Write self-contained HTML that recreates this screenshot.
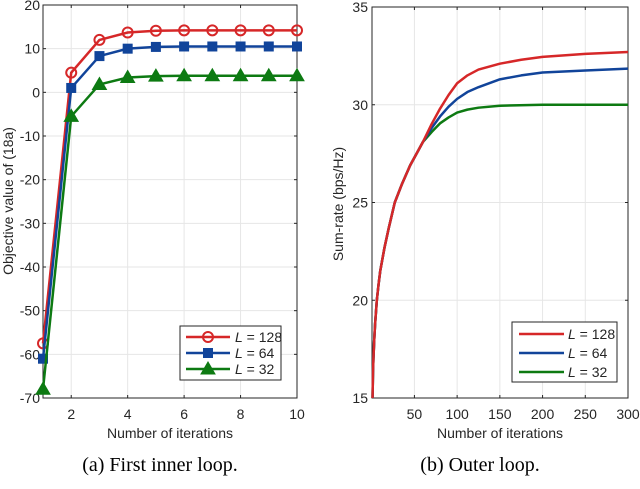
<!DOCTYPE html>
<html><head><meta charset="utf-8"><style>
html,body{margin:0;padding:0;background:#fff;width:640px;height:489px;overflow:hidden}
svg{display:block}
text{font-family:"Liberation Sans",sans-serif;fill:#262626}
</style></head><body>
<svg id="s" width="640" height="489" xmlns="http://www.w3.org/2000/svg">
<rect width="640" height="489" fill="#fff"/>
<text x="160" y="471" text-anchor="middle" style="font-family:'Liberation Serif',serif;font-size:20px;fill:#000">(a) First inner loop.</text>
<text x="480" y="471" text-anchor="middle" style="font-family:'Liberation Serif',serif;font-size:20px;fill:#000">(b) Outer loop.</text>
</svg>
<script>
const S=document.getElementById('s'),NS='http://www.w3.org/2000/svg';
function el(t,a,p){const e=document.createElementNS(NS,t);for(const k in a)e.setAttribute(k,a[k]);(p||S).appendChild(e);return e}
function tx(x,y,s,a){const e=el('text',Object.assign({x,y,'font-size':14},a||{}));e.textContent=s;return e}
const lx=v=>43+(v-1)*(254/9), ly=v=>5+(20-v)*(393/90);
for(let v=2;v<=10;v+=2){el('line',{x1:lx(v),x2:lx(v),y1:5,y2:398,stroke:'#e6e6e6'});}
for(let v=-60;v<=10;v+=10){el('line',{x1:43,x2:297,y1:ly(v),y2:ly(v),stroke:'#e6e6e6'});}
el('rect',{x:43,y:5,width:254,height:393,fill:'none',stroke:'#262626','stroke-width':1});
for(let v=2;v<=10;v+=2){el('line',{x1:lx(v),x2:lx(v),y1:398,y2:395,stroke:'#262626'});el('line',{x1:lx(v),x2:lx(v),y1:5,y2:8,stroke:'#262626'});tx(lx(v),419,v,{'text-anchor':'middle'});}
for(let v=-70;v<=20;v+=10){el('line',{x1:43,x2:46,y1:ly(v),y2:ly(v),stroke:'#262626'});el('line',{x1:297,x2:294,y1:ly(v),y2:ly(v),stroke:'#262626'});tx(40,ly(v)+5,v,{'text-anchor':'end'});}
tx(170,438,'Number of iterations',{'text-anchor':'middle'});
tx(0,0,'Objective value of (18a)',{'text-anchor':'middle',transform:'translate(13,201) rotate(-90)'});
const D=[[ '#d62728',[-57.5,4.5,12,13.7,14.1,14.2,14.2,14.2,14.2,14.2],'o'],
['#11449a',[-61,1,8.3,10,10.4,10.5,10.5,10.5,10.5,10.5],'s'],
['#0d7a12',[-68,-5.5,1.8,3.4,3.7,3.8,3.8,3.8,3.8,3.8],'t']];
function mk(x,y,c,m){if(m=='o')el('circle',{cx:x,cy:y,r:5,fill:'none',stroke:c,'stroke-width':2});
else if(m=='s')el('rect',{x:x-4.5,y:y-4.5,width:9,height:9,fill:c,stroke:c,'stroke-width':1});
else el('polygon',{points:`${x},${y-7} ${x-7},${y+5} ${x+7},${y+5}`,fill:c,stroke:c});}
D.forEach(([c,d,m])=>{el('polyline',{points:d.map((v,i)=>lx(i+1)+','+ly(v)).join(' '),fill:'none',stroke:c,'stroke-width':2.5});d.forEach((v,i)=>mk(lx(i+1),ly(v),c,m));});
el('rect',{x:180,y:326,width:101,height:54,fill:'#fff',stroke:'#262626'});
D.forEach(([c,d,m],i)=>{const y=337+i*16;el('line',{x1:186,x2:230,y1:y,y2:y,stroke:c,'stroke-width':2.5});mk(208,y,c,m);
const t=tx(235,y+5,'',{});t.innerHTML='<tspan font-style="italic">L</tspan> = '+['128','64','32'][i];});
const rx=v=>371.7+v*(256.3/300), ry=v=>7+(35-v)*(391/20);
for(let v=50;v<=250;v+=50)el('line',{x1:rx(v),x2:rx(v),y1:7,y2:398,stroke:'#e6e6e6'});
for(let v=20;v<=30;v+=5)el('line',{x1:372,x2:628,y1:ry(v),y2:ry(v),stroke:'#e6e6e6'});
el('rect',{x:372,y:7,width:256,height:391,fill:'none',stroke:'#262626'});
for(let v=50;v<=300;v+=50){el('line',{x1:rx(v),x2:rx(v),y1:398,y2:395,stroke:'#262626'});el('line',{x1:rx(v),x2:rx(v),y1:7,y2:10,stroke:'#262626'});tx(rx(v),419,v,{'text-anchor':'middle'});}
for(let v=15;v<=35;v+=5){el('line',{x1:372,x2:375,y1:ry(v),y2:ry(v),stroke:'#262626'});el('line',{x1:628,x2:625,y1:ry(v),y2:ry(v),stroke:'#262626'});tx(368,ry(v)+5,v,{'text-anchor':'end'});}
tx(500,438,'Number of iterations',{'text-anchor':'middle'});
tx(0,0,'Sum-rate (bps/Hz)',{'text-anchor':'middle',transform:'translate(343,204) rotate(-90)'});
const common=[[1,15],[1.5,16.3],[2,17],[3,18],[4,18.8],[6,20],[8,20.8],[10,21.5],[15,22.7],[20,23.7],[27,25],[35,25.9],[45,26.9],[55,27.7],[60,28.1]];
const tails={r:[[70,29],[80,29.8],[90,30.5],[100,31.1],[112,31.5],[125,31.8],[150,32.1],[175,32.3],[200,32.45],[250,32.6],[300,32.7]],
b:[[70,28.8],[80,29.4],[90,29.9],[100,30.3],[112,30.65],[125,30.9],[150,31.3],[175,31.5],[200,31.65],[250,31.75],[300,31.85]],
g:[[70,28.6],[80,29.05],[90,29.35],[100,29.6],[112,29.75],[125,29.85],[150,29.95],[200,30],[300,30]]};
[['#0d7a12','g'],['#11449a','b'],['#d62728','r']].forEach(([c,k])=>{const p=common.concat(tails[k]);
el('polyline',{points:p.map(([x,y])=>rx(x)+','+ry(y)).join(' '),fill:'none',stroke:c,'stroke-width':2.5,'stroke-linejoin':'round'});});
el('rect',{x:512,y:322,width:105,height:60,fill:'#fff',stroke:'#262626'});
['#d62728','#11449a','#0d7a12'].forEach((c,i)=>{const y=334+i*19;el('line',{x1:519,x2:564,y1:y,y2:y,stroke:c,'stroke-width':2.5});
const t=tx(568,y+5,'',{});t.innerHTML='<tspan font-style="italic">L</tspan> = '+['128','64','32'][i];});
</script>
</body></html>
